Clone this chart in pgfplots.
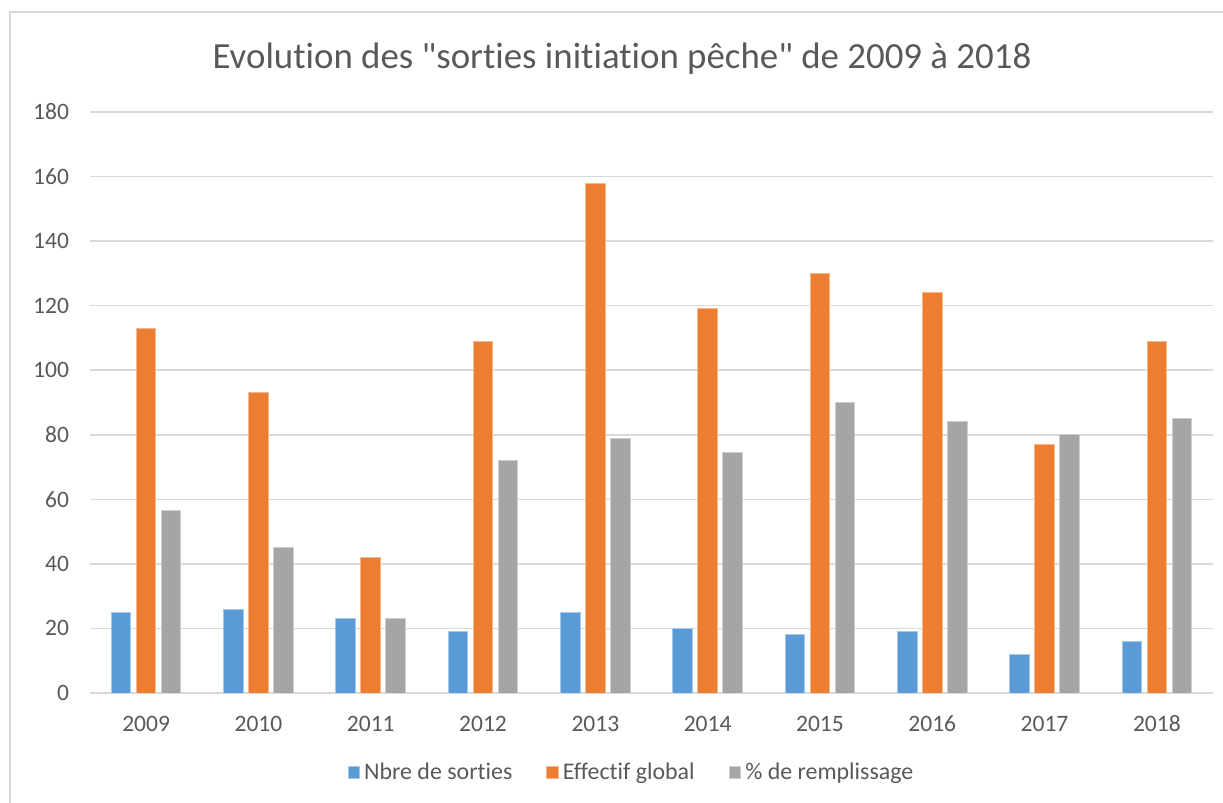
\documentclass[border=0pt]{standalone}
\usepackage{pgfplots}
\pgfplotsset{compat=1.18}
\usepackage{fontspec}
\setmainfont{Carlito}[Ligatures={TeXOff,NoCommon}]
\definecolor{cblue}{HTML}{5B9BD5}
\definecolor{corange}{HTML}{ED7D31}
\definecolor{cgray}{HTML}{A5A5A5}
\definecolor{gridc}{HTML}{D9D9D9}
\definecolor{txt}{HTML}{595959}
\definecolor{borderc}{HTML}{D9D9D9}
\begin{document}
\begin{tikzpicture}
\useasboundingbox (0,0) rectangle (611.5bp,401.5bp);
\draw[borderc, line width=1bp] (5bp,0) -- (5bp,395.5bp) -- (611.5bp,395.5bp);
\node[text=txt, font=\fontsize{18.5}{22}\selectfont] at (311bp,372bp) {Evolution des "sorties initiation pêche" de 2009 à 2018};
\begin{axis}[
  at={(45bp,55bp)}, anchor=south west, scale only axis,
  width=561.5bp, height=290.5bp,
  xmin=-0.5, xmax=9.5, ymin=0, ymax=180,
  ytick={0,20,...,180},
  xtick={0,...,9}, xticklabels={2009,2010,2011,2012,2013,2014,2015,2016,2017,2018},
  ymajorgrids, grid style={color=gridc, line width=0.8bp},
  axis x line=bottom, axis y line=left,
  axis line style={-},
  x axis line style={draw=gridc, line width=0.8bp},
  y axis line style={draw=none},
  major tick length=0pt,
  tick label style={font=\fontsize{11.8}{13}\selectfont, text=txt},
  /pgf/number format/assume math mode=true,
  yticklabel style={anchor=east, xshift=-7bp},
  xticklabel style={anchor=north, yshift=-7.5bp, text height=8bp, text depth=0bp},
  legend style={at={(0.483,-0.137)}, anchor=center, draw=none, fill=none,
    font=\fontsize{12}{14}\selectfont, text=txt, legend columns=3,
    /tikz/every even column/.append style={column sep=15bp},
    legend cell align=left},
  legend image code/.code={\fill[#1] (0bp,-2.9bp) rectangle (5.8bp,2.9bp);},
]
\addplot[ybar, fill=cblue, draw=cblue!55!white, line width=0.5bp, bar width=0.174, bar shift=-0.2226]
  coordinates {(0,25) (1,26) (2,23) (3,19) (4,25) (5,20) (6,18) (7,19) (8,12) (9,16)};
\addplot[ybar, fill=corange, draw=corange!55!white, line width=0.5bp, bar width=0.174, bar shift=0]
  coordinates {(0,113) (1,93) (2,42) (3,109) (4,158) (5,119) (6,130) (7,124) (8,77) (9,109)};
\addplot[ybar, fill=cgray, draw=cgray!55!white, line width=0.5bp, bar width=0.174, bar shift=0.2226]
  coordinates {(0,56.4) (1,45) (2,23) (3,72) (4,79) (5,74.6) (6,90) (7,84) (8,80) (9,85)};
\legend{Nbre de sorties, Effectif global, \% de remplissage}
\end{axis}
\end{tikzpicture}
\end{document}
